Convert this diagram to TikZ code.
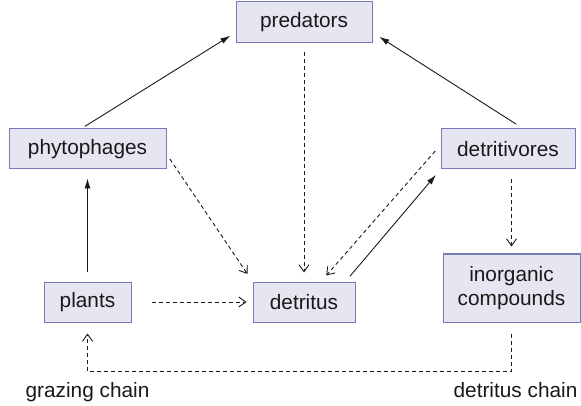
\documentclass[tikz,border=0pt]{standalone}
\usepackage{fontspec}
\setmainfont{Liberation Sans}
\usetikzlibrary{arrows.meta}
\definecolor{boxfill}{RGB}{230,230,242}
\definecolor{boxline}{RGB}{122,122,182}
\definecolor{ink}{RGB}{25,25,25}
\begin{document}
\begin{tikzpicture}[x=1pt,y=-1pt,
  compartment/.style={draw=boxline,fill=boxfill,line width=1pt,inner sep=0pt,
    text=ink,align=center,minimum height=40pt,
    font=\fontsize{20.8}{24}\selectfont},
  flow/.style={draw=ink,line width=0.9pt,-{Latex[length=10pt,width=6pt]}},
  decay/.style={draw=ink,line width=0.9pt,dash pattern=on 4pt off 3pt,
    -{Straight Barb[length=7pt,width=10pt]}},
  chainlabel/.style={anchor=base,text=ink,font=\fontsize{20.8}{24}\selectfont}]
\useasboundingbox (0,0) rectangle (581,406);

% compartments
\node[compartment,minimum width=136pt,minimum height=41pt] (predators) at (304,22.5) {predators};
\node[compartment,minimum width=157pt] (phytophages) at (87.5,149) {phytophages};
\node[compartment,minimum width=134pt] (detritivores) at (508,149) {detritivores};
\node[compartment,minimum width=87pt] (plants) at (87.5,302) {plants};
\node[compartment,minimum width=102pt] (detritus) at (304,302) {detritus};
\node[compartment,minimum width=137pt,minimum height=68pt] (inorganic) at (511.5,288) {inorganic\\compounds};

% chain labels
\node[chainlabel] (grazing) at (87.5,397) {grazing chain};
\node[chainlabel] (detchain) at (515.5,397) {detritus chain};
\coordinate (chainbase) at (300,371);

% feeding links
\draw[flow,shorten <=10pt,shorten >=9pt] (plants.north) -- (phytophages.south);
\draw[flow,shorten <=4pt,shorten >=6pt] ([xshift=-6pt]phytophages.north) -- ([yshift=-10pt]predators.west);
\draw[flow,shorten <=8pt,shorten >=8pt] ([xshift=15pt]detritivores.north) -- ([yshift=-10pt]predators.east);
\draw[flow,shorten <=7pt,shorten >=7pt] ([xshift=-10pt]detritus.north east) -- (detritivores.south west);

% dead matter and recycling
\draw[decay,shorten <=9pt,shorten >=9pt] (predators.south) -- (detritus.north);
\draw[decay,shorten <=6pt,shorten >=9pt] ([yshift=-5pt]phytophages.east) -- (detritus.north west);
\draw[decay,shorten <=8pt,shorten >=8pt] ([yshift=4pt]detritivores.west) -- ([xshift=17pt]detritus.north);
\draw[decay,shorten <=20pt,shorten >=6pt] (plants.east) -- (detritus.west);
\draw[decay,shorten <=10pt,shorten >=7pt] (inorganic.north |- detritivores.south) -- (inorganic.north);
\draw[decay,shorten <=11pt,shorten >=11pt] (inorganic.south) -- (inorganic.south |- chainbase) -| (plants.south);
\end{tikzpicture}
\end{document}
